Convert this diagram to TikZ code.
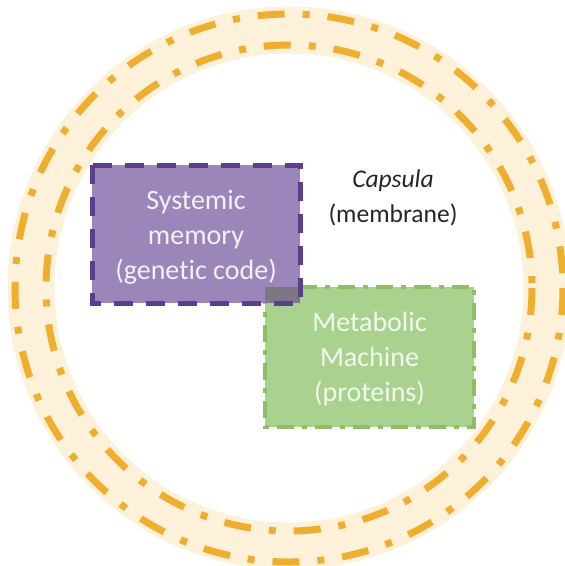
\documentclass[tikz,border=0pt]{standalone}
\usepackage{fontspec}
\setmainfont[Ligatures={NoCommon}]{Carlito}
\definecolor{bandfill}{HTML}{FDF1DA}
\definecolor{ringdash}{HTML}{F0AE2E}
\definecolor{purplefill}{HTML}{9B86BA}
\definecolor{purpleedge}{HTML}{5C3D8E}
\definecolor{greenfill}{HTML}{AAD28F}
\definecolor{greenedge}{HTML}{8DC064}
\definecolor{overlapfill}{HTML}{7D7683}
\definecolor{captext}{HTML}{262626}
\tikzset{
  ring/.style={draw=ringdash, line width=7pt, dash pattern=on 27pt off 18pt on 7pt off 18pt},
  memorybox/.style={fill=purplefill, draw=none},
  memoryedge/.style={draw=purpleedge, line width=5pt, dash pattern=on 19pt off 13pt},
  machinebox/.style={fill=greenfill, draw=greenedge, line width=4pt, dash pattern=on 17pt off 8pt on 5pt off 8pt},
  boxtext/.style={align=center, font=\fontsize{28}{35}\selectfont},
  captxt/.style={align=center, text=captext, font=\fontsize{25.5}{35}\selectfont}
}
\begin{document}
\begin{tikzpicture}[x=1pt, y=-1pt]
\useasboundingbox[fill=white] (0,0) rectangle (565,566);
\coordinate (c) at (289,288);
% membrane band
\draw[bandfill, line width=47pt] (c) circle[radius=258];
\draw[ring] (c) circle[radius=274];
\draw[ring] (c) circle[radius=243];
% boxes
\path[machinebox] (265,287) rectangle (474,427);
\path[memorybox] (92,165) rectangle (300,303);
\fill[overlapfill] (265,287) rectangle (300,303);
\draw[memoryedge] (92,165) rectangle (300,303);
\node[boxtext, text=white!88!purplefill] (mem) at (196,237) {Systemic\\memory\\(genetic code)};
\node[boxtext, text=white!85!greenfill] (mach) at (369.5,359) {Metabolic\\Machine\\(proteins)};
\node[captxt] (cap) at (393,198) {\itshape Capsula\\(membrane)};
\end{tikzpicture}
\end{document}
